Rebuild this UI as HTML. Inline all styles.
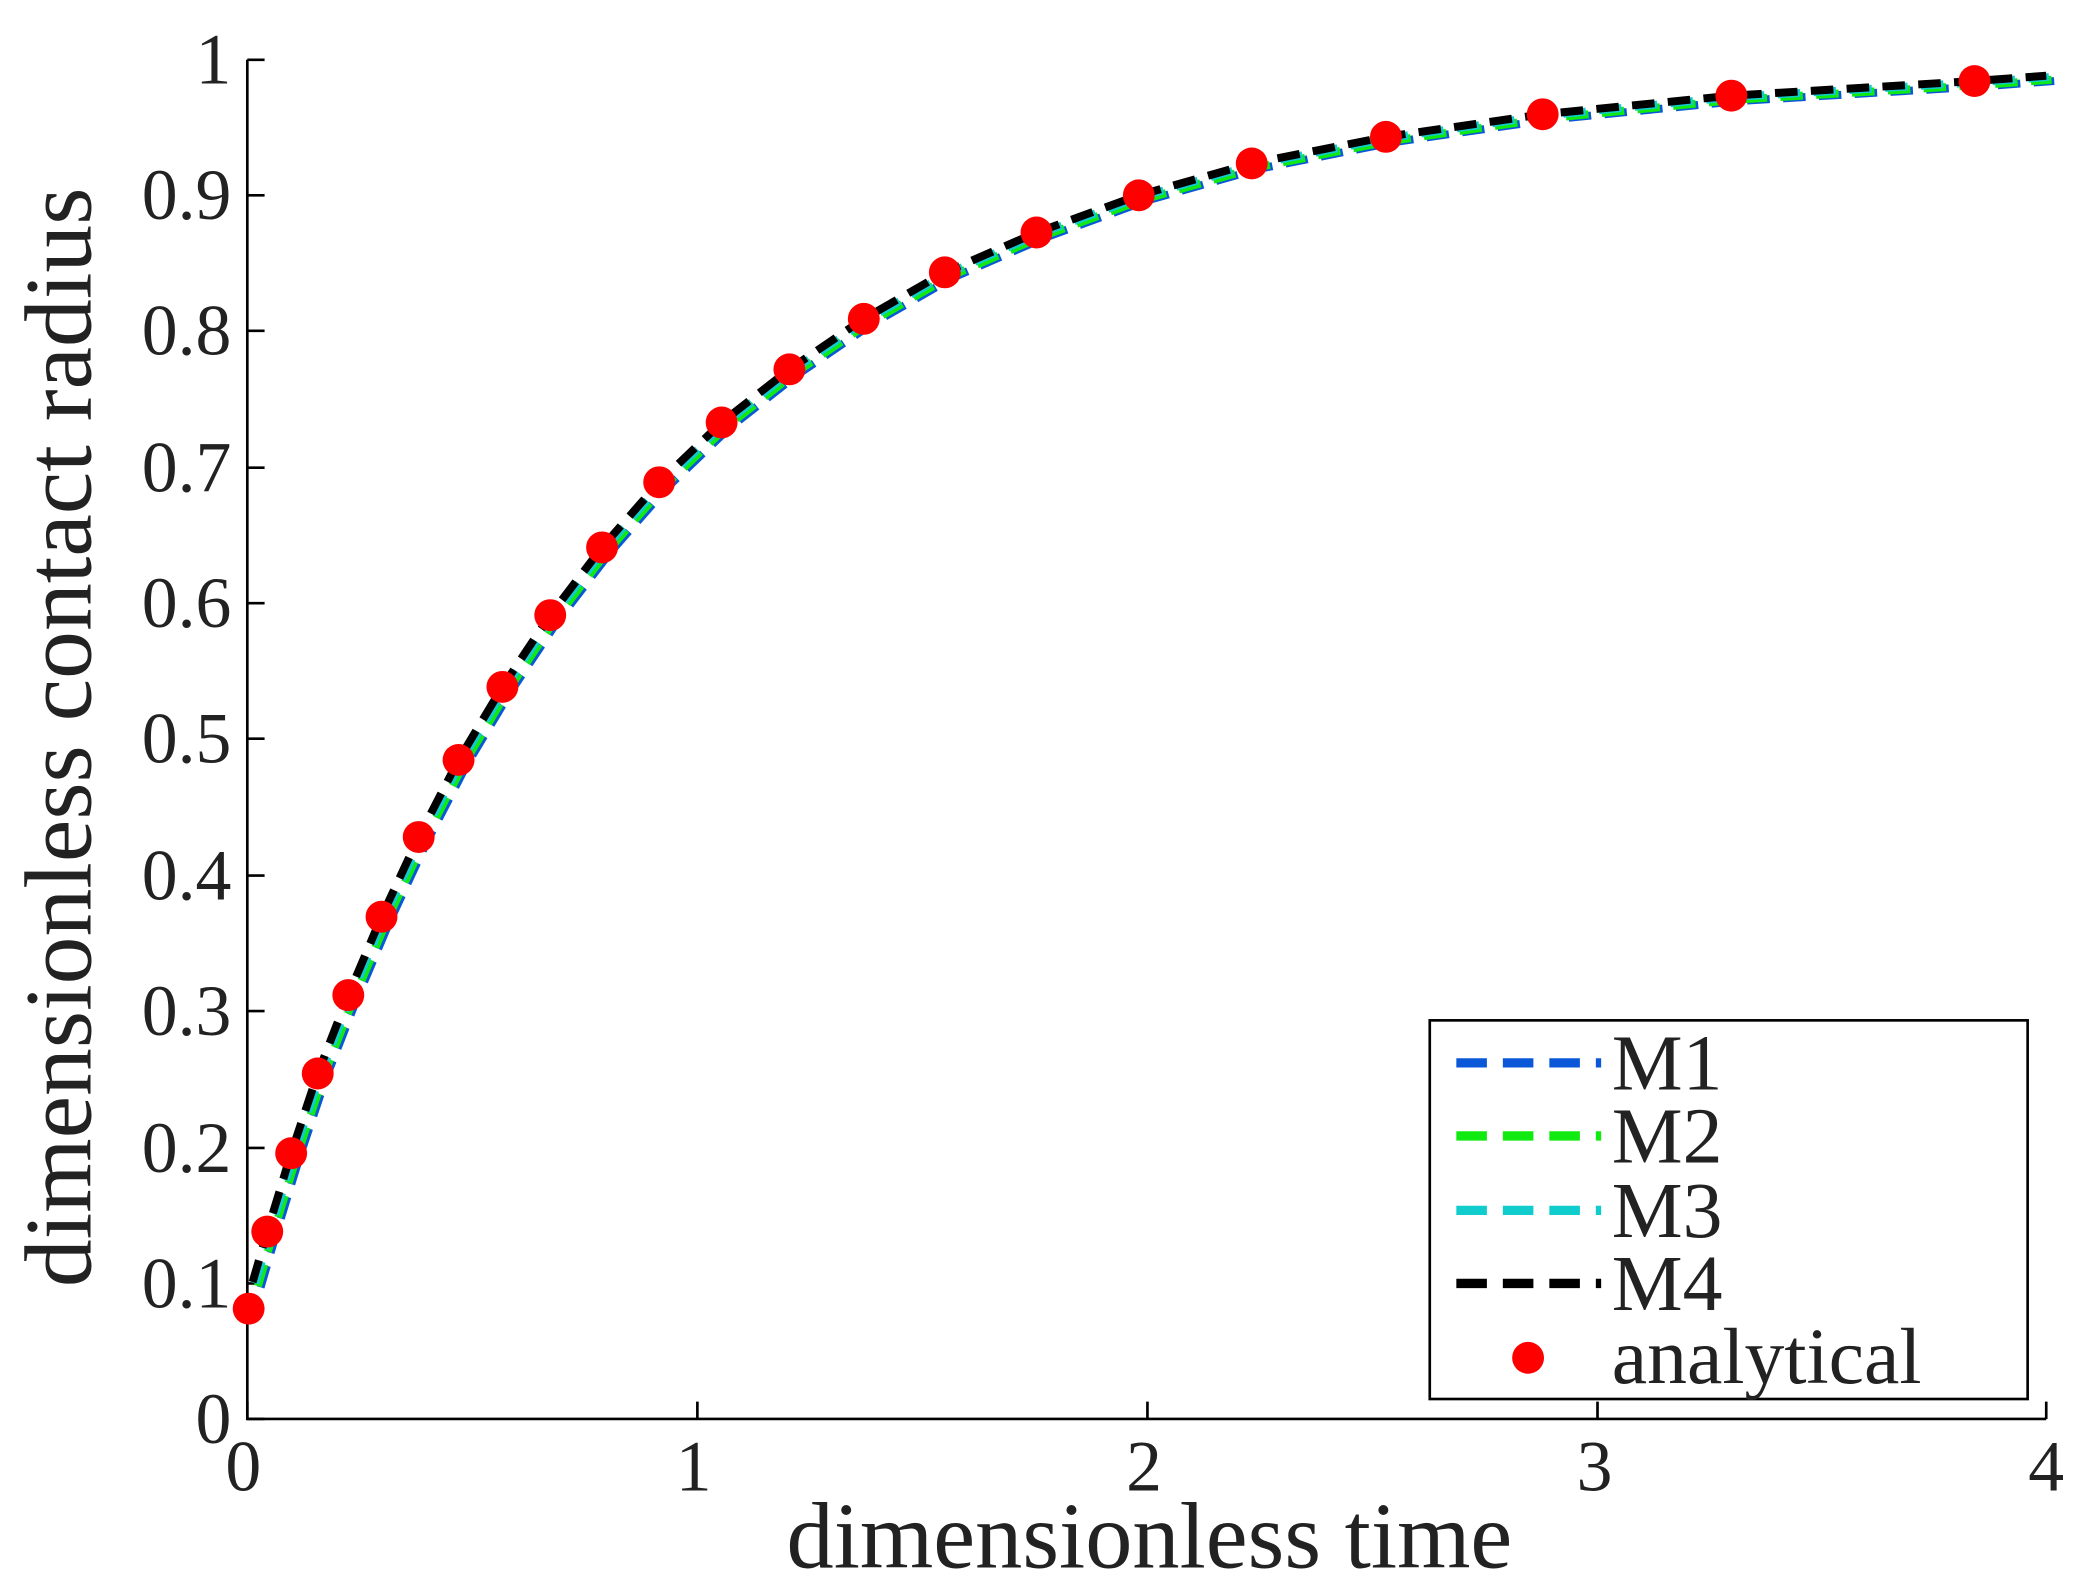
<!DOCTYPE html>
<html><head><meta charset="utf-8"><style>
html,body{margin:0;padding:0;background:#fff;}
svg{display:block;}
text{font-family:"Liberation Serif","DejaVu Serif",serif;fill:#222;}
</style></head><body>
<svg width="2073" height="1589" viewBox="0 0 1560 1196" xmlns="http://www.w3.org/2000/svg">
<rect width="1560" height="1196" fill="#fff"/>
<g stroke="#000" stroke-width="2" fill="none">
<path d="M186,45 V1068 H1540"/>
<path d="M186,1068h13M186,966h13M186,864h13M186,761h13M186,659h13M186,556h13M186,454h13M186,352h13M186,249h13M186,147h13M186,45h13"/>
<path d="M186,1068v-13M524.75,1068v-13M863.5,1068v-13M1202.25,1068v-13M1540,1068v-13"/>
</g>
<g font-size="54" text-anchor="end">
<text x="174" y="1086">0</text><text x="174" y="984">0.1</text><text x="174" y="882">0.2</text><text x="174" y="779">0.3</text><text x="174" y="677">0.4</text><text x="174" y="574">0.5</text><text x="174" y="472">0.6</text><text x="174" y="370">0.7</text><text x="174" y="267">0.8</text><text x="174" y="165">0.9</text><text x="174" y="63">1</text>
</g>
<g font-size="54" text-anchor="middle">
<text x="183" y="1122">0</text><text x="522" y="1122">1</text><text x="861" y="1122">2</text><text x="1200" y="1122">3</text><text x="1540" y="1122">4</text>
</g>
<text x="865" y="1180" font-size="71" text-anchor="middle">dimensionless time</text>
<text transform="translate(68,555) rotate(-90)" font-size="72" text-anchor="middle">dimensionless contact radius</text>
<defs>
<path id="c" d="M190,965 L201,927 L219,868 L239,808 L262,749 L287,690 L315,630 L345,572 L378,517 L414,463 L453,412 L496,363 L543,318 L594,278 L650,240 L711,205 L780,175 L857,147 L942,123 L1043,103 L1161,86 L1303,72 L1486,61 L1540,57"/>
</defs>
<g fill="none" stroke-width="6" stroke-dasharray="17,10">
<use href="#c" stroke="#0a58d8" transform="translate(6,4)"/>
<use href="#c" stroke="#10ea10" transform="translate(4,3)"/>
<use href="#c" stroke="#10cccc" transform="translate(2,1)"/>
<use href="#c" stroke="#000"/>
</g>
<g fill="#f00">
<circle cx="187" cy="985" r="12"/><circle cx="201" cy="927" r="12"/><circle cx="219" cy="868" r="12"/><circle cx="239" cy="808" r="12"/><circle cx="262" cy="749" r="12"/><circle cx="287" cy="690" r="12"/><circle cx="315" cy="630" r="12"/><circle cx="345" cy="572" r="12"/><circle cx="378" cy="517" r="12"/><circle cx="414" cy="463" r="12"/><circle cx="453" cy="412" r="12"/><circle cx="496" cy="363" r="12"/><circle cx="543" cy="318" r="12"/><circle cx="594" cy="278" r="12"/><circle cx="650" cy="240" r="12"/><circle cx="711" cy="205" r="12"/><circle cx="780" cy="175" r="12"/><circle cx="857" cy="147" r="12"/><circle cx="942" cy="123" r="12"/><circle cx="1043" cy="103" r="12"/><circle cx="1161" cy="86" r="12"/><circle cx="1303" cy="72" r="12"/><circle cx="1486" cy="61" r="12"/>
</g>
<rect x="1076" y="768" width="450" height="285" fill="#fff" stroke="#000" stroke-width="2"/>
<g stroke-width="7" stroke-dasharray="23,12">
<line x1="1096" y1="800" x2="1205" y2="800" stroke="#0a58d8"/>
<line x1="1096" y1="855" x2="1205" y2="855" stroke="#10ea10"/>
<line x1="1096" y1="911" x2="1205" y2="911" stroke="#10cccc"/>
<line x1="1096" y1="966" x2="1205" y2="966" stroke="#000"/>
</g>
<circle cx="1150" cy="1022" r="12" fill="#f00"/>
<g font-size="60">
<text x="1213" y="820">M1</text><text x="1213" y="875">M2</text><text x="1213" y="931">M3</text><text x="1213" y="986">M4</text><text x="1213" y="1041">analytical</text>
</g>
</svg>
</body></html>
